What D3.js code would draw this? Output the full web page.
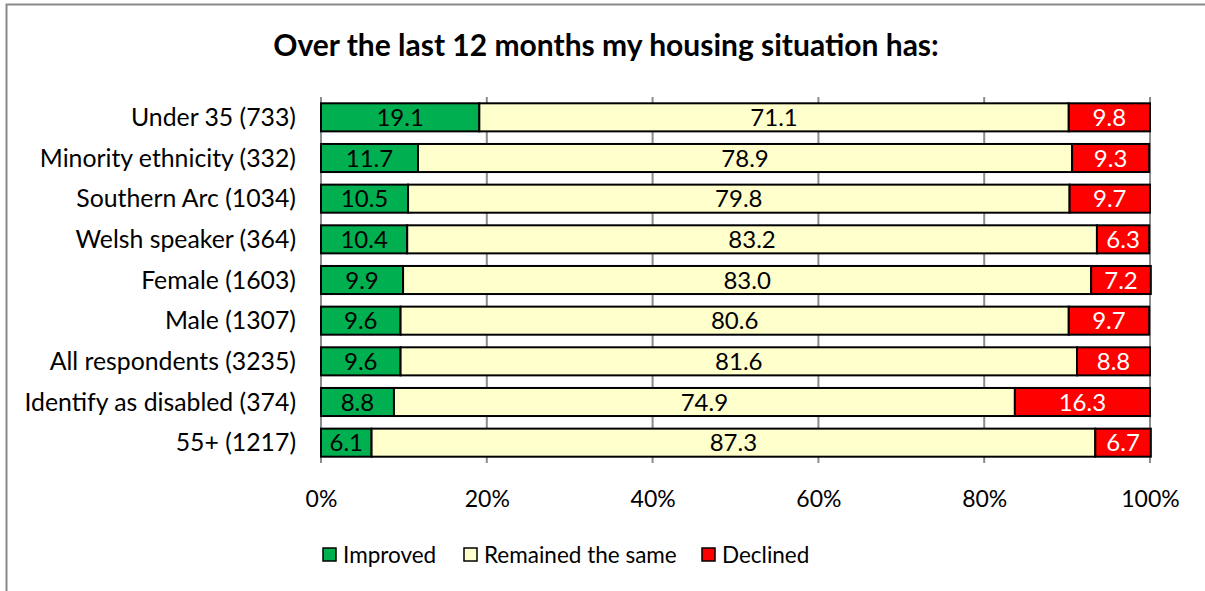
<!DOCTYPE html>
<html><head><meta charset="utf-8">
<script src="https://cdn.jsdelivr.net/npm/d3@7"></script>
<style>body{margin:0;background:#fff;} svg{display:block;}</style>
</head><body>
<svg id="chart" width="1205" height="591"></svg>
<script>
const categories = ["Under 35 (733)","Minority ethnicity (332)","Southern Arc (1034)","Welsh speaker (364)","Female (1603)","Male (1307)","All respondents (3235)","Identify as disabled (374)","55+ (1217)"];
const improved = [19.1,11.7,10.5,10.4,9.9,9.6,9.6,8.8,6.1];
const same = [71.1,78.9,79.8,83.2,83.0,80.6,81.6,74.9,87.3];
const declined = [9.8,9.3,9.7,6.3,7.2,9.7,8.8,16.3,6.7];
const seriesNames = ["Improved","Remained the same","Declined"];
const tickValues = [0,20,40,60,80,100];
const colors = ["#00B050","#FFFFCC","#FF0000"];
const textColors = ["#000","#000","#fff"];

const font = "Lato, 'Open Sans', sans-serif";
const svg = d3.select("#chart");
svg.append("rect").attr("x",6.5).attr("y",4.5).attr("width",1300).attr("height",700)
  .attr("fill","#fff").attr("stroke","#898989").attr("stroke-width",2);

svg.append("text").attr("x",606).attr("y",56).attr("text-anchor","middle")
  .attr("font-family",font).attr("font-weight","bold").attr("font-size",30)
  .text("Over the last 12 months my housing situation has:");

const x = d3.scaleLinear().domain([0,100]).range([321,1150]);
const y = d3.scaleBand().domain(categories).range([97,463]).paddingInner(0.31).paddingOuter(0.155);

// gridlines
svg.append("g").selectAll("line").data(tickValues).join("line")
  .attr("x1",d=>x(d)).attr("x2",d=>x(d)).attr("y1",97).attr("y2",463)
  .attr("stroke","#8c8c8c").attr("stroke-width",2);

const data = categories.map((c,i)=>({c, vals:[improved[i],same[i],declined[i]]}));
const segs = [];
data.forEach(d=>{let acc=0; d.vals.forEach((v,k)=>{segs.push({c:d.c,k,v,x0:acc,x1:acc+v}); acc+=v;});});

svg.append("g").selectAll("rect").data(segs).join("rect")
  .attr("x",d=>x(d.x0)).attr("y",d=>y(d.c)).attr("width",d=>x(d.x1)-x(d.x0)).attr("height",y.bandwidth())
  .attr("fill",d=>colors[d.k]).attr("stroke","#000").attr("stroke-width",2);

svg.append("g").selectAll("text").data(segs).join("text")
  .attr("x",d=>(x(d.x0)+x(d.x1))/2).attr("y",d=>y(d.c)+y.bandwidth()/2+8.5)
  .attr("text-anchor","middle").attr("font-family",font).attr("font-size",24)
  .attr("fill",d=>textColors[d.k]).text(d=>d.v.toFixed(1));

// category labels
svg.append("g").selectAll("text").data(categories).join("text")
  .attr("x",296).attr("y",d=>y(d)+y.bandwidth()/2+8.5).attr("text-anchor","end")
  .attr("font-family",font).attr("font-size",24.8).attr("fill","#000").text(d=>d);

// x tick labels
const xAxis = d3.axisBottom(x).tickValues(tickValues).tickFormat(d=>d+"%").tickSize(0).tickPadding(0);
const ga = svg.append("g").attr("transform","translate(0,507)").call(xAxis);
ga.select(".domain").remove();
ga.selectAll("text").attr("font-family",font).attr("font-size",23).attr("fill","#000").attr("dy",0);

// legend
const legendX = [323,464,702];
const lg = svg.append("g").selectAll("g").data(seriesNames).join("g")
  .attr("transform",(d,i)=>`translate(${legendX[i]},548)`);
lg.append("rect").attr("width",13).attr("height",13).attr("fill",(d,i)=>colors[i]).attr("stroke","#000").attr("stroke-width",1.5);
lg.append("text").attr("x",20).attr("y",15).attr("font-family",font).attr("font-size",22.5).attr("fill","#000").text(d=>d);
</script>
</body></html>
